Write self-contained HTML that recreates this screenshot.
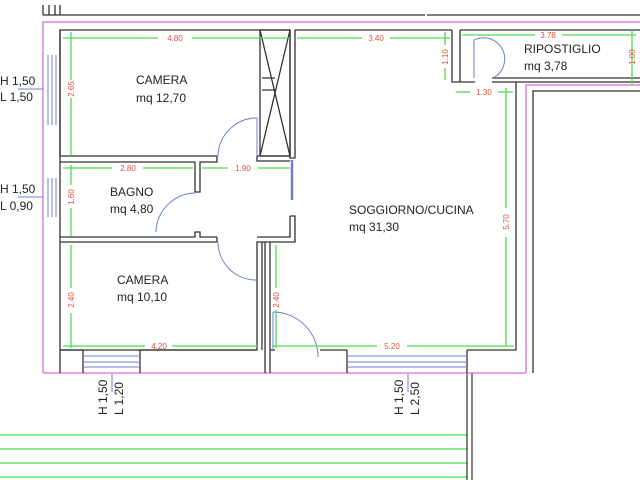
<!DOCTYPE html>
<html><head><meta charset="utf-8"><style>
html,body{margin:0;padding:0;background:#fff;}
svg{display:block}
text{font-family:"Liberation Sans",sans-serif;}
.t{font-size:12px;fill:#222}
.d{font-size:8px;fill:#e0503a}
</style></head><body>
<svg width="640" height="480" viewBox="0 0 640 480" xmlns="http://www.w3.org/2000/svg">
<rect width="640" height="480" fill="#fff"/>
<g stroke="#5ee35e" stroke-width="1.5">
<line x1="0" y1="435" x2="467" y2="435"/><line x1="0" y1="449" x2="467" y2="449"/>
<line x1="0" y1="463" x2="467" y2="463"/><line x1="0" y1="477" x2="467" y2="477"/>
</g>
<g stroke="#333" stroke-width="1.2" fill="none">
<line x1="467" y1="373" x2="467" y2="480"/><line x1="472" y1="373" x2="472" y2="480"/>
</g>
<g stroke="#d36fd3" stroke-width="1.3" fill="none">
<polyline points="43,373 43,22 640,22"/>
<line x1="43" y1="373" x2="526" y2="373"/>
<polyline points="526,373 526,85 640,85"/>
</g>
<g stroke="#333" stroke-width="1.3" fill="none">
<line x1="60" y1="15" x2="425" y2="15"/><line x1="427" y1="15" x2="640" y2="15"/>
<path d="M43,15 V5 M49,5 V15 M55,5 V15 M60,5 V15 M43,15 H60"/>
<polyline points="217,156 60,156 60,30 290,30"/>
<path d="M257,156 V161 H290 M257,156 H290"/>
<line x1="60" y1="30" x2="60" y2="350"/>
<rect x="260" y="30" width="30" height="126"/>
<line x1="260" y1="30" x2="290" y2="156"/><line x1="290" y1="30" x2="260" y2="156"/>
<path d="M262,78 H275 M262,90 H275"/>
<polyline points="290,30 290,158 295,158 295,30 452,30"/>
<polyline points="60,162 195,162 195,192 200,192 200,162 217,162 217,156"/>
<polyline points="60,237 195,237 195,232 200,232 200,237 217,237"/>
<polyline points="60,242 217,242"/>
<line x1="217" y1="237" x2="217" y2="242"/>
<polyline points="290,216 295,216 295,242 257,242 257,350 60,350"/>
<path d="M262,242 V350 M265,242 V373 M270,242 V373"/>
<polyline points="290,216 290,237 257,237"/>
<path d="M270,350 H275 M320,350 H347 M467,350 H516 V82"/>
<polyline points="533,373 533,91 640,91"/>
<polyline points="452,30 452,82 460,82 460,30"/>
<path d="M460,82 H475 M492,78 H640 M492,82 H640"/>
<line x1="460" y1="30" x2="640" y2="30"/>
<path d="M83,350 V373 M140,350 V373 M347,350 V373 M467,350 V373 M60,350 V373 M60,350 H83 M140,350 H257"/>
</g>
<g stroke="#6a7fd0" stroke-width="1" fill="none">
<line x1="83" y1="356" x2="140" y2="356"/><line x1="83" y1="362" x2="140" y2="362"/><line x1="83" y1="367" x2="140" y2="367"/>
<line x1="347" y1="356" x2="467" y2="356"/><line x1="347" y1="362" x2="467" y2="362"/><line x1="347" y1="367" x2="467" y2="367"/>
<line x1="48" y1="55" x2="48" y2="125"/><line x1="52" y1="55" x2="52" y2="125"/><line x1="56" y1="55" x2="56" y2="125"/>
<line x1="48" y1="178" x2="48" y2="217"/><line x1="52" y1="178" x2="52" y2="217"/><line x1="56" y1="178" x2="56" y2="217"/>
<path d="M257,118 A39,39 0 0 0 218,156"/><line x1="257" y1="118" x2="257" y2="156"/>
<path d="M195,193 A40,40 0 0 0 156,232"/>
<path d="M218,242 A38,38 0 0 0 256,280"/>
<path d="M273,312 A45,45 0 0 1 318,357"/><line x1="273" y1="312" x2="273" y2="350"/>
<path d="M474,40 A19,19 0 0 1 493,78"/><line x1="474" y1="40" x2="474" y2="78"/>
<line x1="292" y1="160" x2="292" y2="200" stroke-width="2.5"/>
<line x1="112" y1="374" x2="112" y2="392"/><line x1="408" y1="374" x2="408" y2="392"/>
</g>
<g stroke="#4fdb4f" stroke-width="1.3" fill="none">
<line x1="63" y1="38" x2="158" y2="38"/><line x1="192" y1="38" x2="290" y2="38"/>
<line x1="297" y1="38" x2="362" y2="38"/><line x1="390" y1="38" x2="450" y2="38"/>
<line x1="462" y1="35" x2="535" y2="35"/><line x1="562" y1="35" x2="636" y2="35"/>
<line x1="71" y1="32" x2="71" y2="80"/><line x1="71" y1="98" x2="71" y2="155"/>
<line x1="63" y1="168" x2="112" y2="168"/><line x1="143" y1="168" x2="193" y2="168"/>
<line x1="202" y1="168" x2="228" y2="168"/><line x1="258" y1="168" x2="290" y2="168"/>
<line x1="71" y1="165" x2="71" y2="185"/><line x1="71" y1="208" x2="71" y2="236"/>
<line x1="71" y1="245" x2="71" y2="288"/><line x1="71" y1="313" x2="71" y2="348"/>
<line x1="63" y1="346" x2="145" y2="346"/><line x1="172" y1="346" x2="258" y2="346"/>
<line x1="276" y1="245" x2="276" y2="288"/><line x1="276" y1="310" x2="276" y2="348"/>
<line x1="272" y1="346" x2="377" y2="346"/><line x1="407" y1="346" x2="514" y2="346"/>
<line x1="506" y1="88" x2="506" y2="208"/><line x1="506" y1="237" x2="506" y2="346"/>
<line x1="456" y1="92" x2="470" y2="92"/><line x1="498" y1="92" x2="513" y2="92"/>
<line x1="445" y1="32" x2="445" y2="45"/><line x1="445" y1="68" x2="445" y2="80"/>
<line x1="632" y1="30" x2="632" y2="85"/>
</g>
<text class="d" x="175" y="41" text-anchor="middle">4.80</text>
<text class="d" x="376" y="41" text-anchor="middle">3.40</text>
<text class="d" x="548" y="38" text-anchor="middle">3.78</text>
<text class="d" x="128" y="171" text-anchor="middle">2.80</text>
<text class="d" x="243" y="171" text-anchor="middle">1.90</text>
<text class="d" x="159" y="349" text-anchor="middle">4.20</text>
<text class="d" x="392" y="349" text-anchor="middle">5.20</text>
<text class="d" x="484" y="95" text-anchor="middle">1.30</text>
<text class="d" transform="translate(74,89) rotate(-90)" text-anchor="middle">2.65</text>
<text class="d" transform="translate(74,197) rotate(-90)" text-anchor="middle">1.60</text>
<text class="d" transform="translate(74,300) rotate(-90)" text-anchor="middle">2.40</text>
<text class="d" transform="translate(279,300) rotate(-90)" text-anchor="middle">2.40</text>
<text class="d" transform="translate(509,222) rotate(-90)" text-anchor="middle">5.70</text>
<text class="d" transform="translate(448,57) rotate(-90)" text-anchor="middle">1.10</text>
<text class="d" transform="translate(635,57) rotate(-90)" text-anchor="middle">1.00</text>
<text class="t" x="136" y="84">CAMERA</text>
<text class="t" x="136" y="102">mq 12,70</text>
<text class="t" x="110" y="196">BAGNO</text>
<text class="t" x="110" y="213">mq 4,80</text>
<text class="t" x="117" y="284">CAMERA</text>
<text class="t" x="117" y="301">mq 10,10</text>
<text class="t" x="349" y="214">SOGGIORNO/CUCINA</text>
<text class="t" x="349" y="231">mq 31,30</text>
<text class="t" x="524" y="53">RIPOSTIGLIO</text>
<text class="t" x="524" y="70">mq 3,78</text>
<text class="t" x="0" y="85">H 1,50</text>
<text class="t" x="0" y="101">L 1,50</text>
<text class="t" x="0" y="193">H 1,50</text>
<text class="t" x="0" y="210">L 0,90</text>
<line x1="18" y1="89" x2="43" y2="89" stroke="#6a7fd0"/>
<line x1="18" y1="197" x2="43" y2="197" stroke="#6a7fd0"/>
<text class="t" transform="translate(107,415) rotate(-90)">H 1,50</text>
<text class="t" transform="translate(123,415) rotate(-90)">L 1,20</text>
<text class="t" transform="translate(403,415) rotate(-90)">H 1,50</text>
<text class="t" transform="translate(419,415) rotate(-90)">L 2,50</text>
</svg>
</body></html>
